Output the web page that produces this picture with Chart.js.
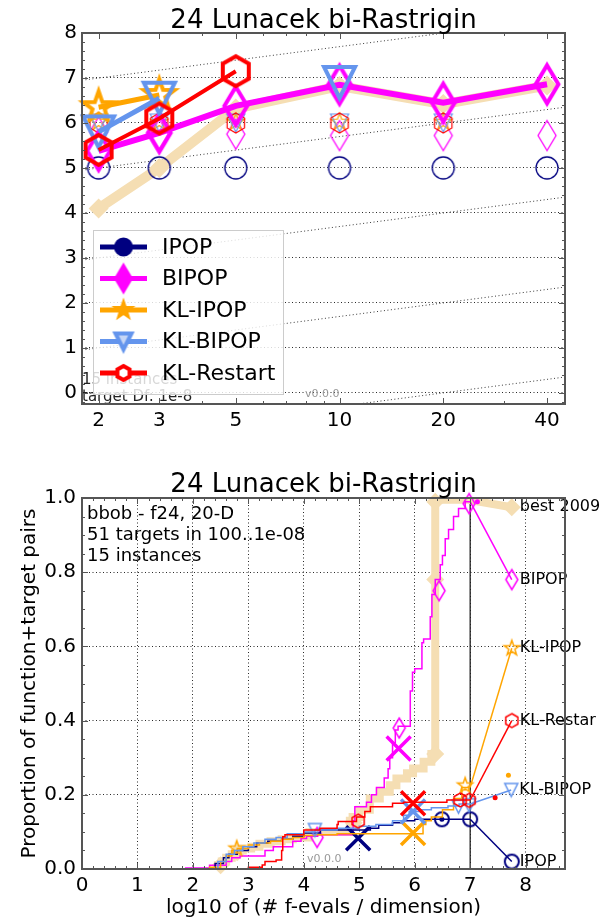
<!DOCTYPE html>
<html lang="en">
<head>
<meta charset="utf-8">
<title>24 Lunacek bi-Rastrigin</title>
<script src="https://cdn.jsdelivr.net/npm/chart.js@4.4.1/dist/chart.umd.min.js"></script>
<style>
  html, body { margin: 0; padding: 0; background: #fff; }
  #page { position: relative; width: 604px; height: 918px; }
  #page canvas { position: absolute; left: 0; }
</style>
</head>
<body>
<div id="page">
  <canvas id="dimChart" width="604" height="460" style="top:0px"></canvas>
  <canvas id="ecdfChart" width="604" height="458" style="top:460px"></canvas>
</div>
<script>
// ---------- top panel: log10(ERT / dimension) per dimension ----------
const dims = [2, 3, 5, 10, 20, 40];
const dimYTicks = [0, 1, 2, 3, 4, 5, 6, 7, 8];
const best2009Dim = [4.1, 5.0, 6.32, 6.82, 6.42, 6.83];
const bipopDim = [5.38, 5.78, 6.38, 6.85, 6.45, 6.86];
const klIpopDim = [6.35, 6.62, null, null, null, null];
const klBipopDim = [5.8, 6.55, null, 6.9, null, null];
const klRestartDim = [5.4, 6.1, 7.15, null, null, null];
// hollow markers: runs that never reached the target
const ipopMaxDim = [5, 5, 5, 5, 5, 5];
const bipopMaxDim = [5.8, 5.75, 5.75, 5.72, 5.72, 5.72];
const klIpopMaxDim = [6.02, 6.02, 6.02, 6.02, 6.02, null];
const klBipopMaxDim = [6.0, 6.0, 6.0, 6.0, 6.0, null];
const klRestartMaxDim = [6.0, 6.0, 6.0, 6.0, 6.0, null];
// dotted guide lines, left end and right end
const guideX = [1.79, 45.1];
const guideY = [[6.95, 8.35], [4.95, 6.35], [2.95, 4.35], [0.95, 2.35], [-1.05, 0.35]];

// ---------- bottom panel: ECDF of run lengths ----------
const ecdfXTicks = [0, 1, 2, 3, 4, 5, 6, 7, 8];
const ecdfYTicks = [0, 0.2, 0.4, 0.6, 0.8, 1.0];
const budgetLog = 7;

const best2009Ecdf = [[2.45,0],[2.52,0.01],[2.6,0.02],[2.7,0.03],[2.8,0.04],[2.9,0.05],[3.05,0.055],[3.2,0.06],[3.4,0.068],[3.6,0.075],[3.8,0.08],[4.1,0.085],[4.83,0.1],[4.88,0.13],[5.0,0.14],[5.19,0.16],[5.37,0.19],[5.55,0.208],[5.67,0.226],[5.86,0.244],[5.97,0.258],[6.16,0.271],[6.3,0.289],[6.37,0.31],[6.37,0.995],[6.97,0.995]];
const best2009Tail = [[6.97,0.995],[7.75,0.975]];
const best2009Marks = [[2.5,0.01],[2.8,0.045],[4.9,0.125],[6.37,0.31],[6.37,0.78],[6.37,0.99],[7.75,0.975]];

const bipopEcdf = [[1.87,0],[2.3,0.003],[2.6,0.01],[2.7,0.02],[2.85,0.03],[3.3,0.035],[3.45,0.05],[3.8,0.06],[3.95,0.075],[4.05,0.082],[4.25,0.088],[4.89,0.092],[4.92,0.13],[5.13,0.168],[5.22,0.18],[5.31,0.2],[5.45,0.22],[5.52,0.245],[5.55,0.27],[5.6,0.3],[5.65,0.34],[5.7,0.375],[5.92,0.385],[5.96,0.48],[6.0,0.53],[6.13,0.54],[6.16,0.61],[6.28,0.62],[6.31,0.68],[6.37,0.74],[6.46,0.78],[6.5,0.82],[6.55,0.845],[6.61,0.89],[6.7,0.915],[6.79,0.95],[6.91,0.972],[6.95,0.99],[7.0,0.99]];
const bipopTail = [[7.0,0.99],[7.75,0.78]];
const bipopMarks = [[4.24,0.085],[5.72,0.38],[6.44,0.75],[6.98,0.985],[7.75,0.78]];
const bipopMedian = [[5.71,0.325]];
const bipopDots = [[7.13,0.99]];

const ipopEcdf = [[2.4,0],[2.55,0.015],[2.65,0.03],[2.8,0.04],[3.0,0.05],[3.15,0.06],[3.35,0.07],[3.6,0.075],[3.8,0.08],[4.0,0.088],[4.3,0.097],[5.2,0.105],[5.35,0.11],[5.6,0.118],[5.8,0.125],[6.0,0.13],[6.3,0.134],[7.0,0.134]];
const ipopTail = [[7.0,0.134],[7.75,0.02]];
const ipopMarks = [[6.49,0.134],[7.0,0.134],[7.75,0.02]];
const ipopMedian = [[4.98,0.083]];
const ipopDots = [[6.49,0.134]];

const klIpopEcdf = [[2.3,0],[2.5,0.005],[2.6,0.02],[2.7,0.035],[2.8,0.05],[3.0,0.055],[3.2,0.065],[3.4,0.07],[3.6,0.075],[3.8,0.08],[4.0,0.085],[4.2,0.09],[4.6,0.092],[6.15,0.095],[6.2,0.12],[6.3,0.13],[6.5,0.14],[6.7,0.16],[6.85,0.19],[6.9,0.22],[7.0,0.22]];
const klIpopTail = [[7.0,0.22],[7.75,0.595]];
const klIpopMarks = [[2.79,0.055],[6.91,0.225],[7.75,0.595]];
const klIpopMedian = [[5.97,0.097]];
const klIpopDots = [[7.69,0.253]];

const klBipopEcdf = [[2.45,0],[2.6,0.02],[2.75,0.04],[2.9,0.05],[3.1,0.06],[3.3,0.07],[3.5,0.08],[3.7,0.085],[4.0,0.095],[4.2,0.1],[4.6,0.105],[5.0,0.11],[5.3,0.115],[5.6,0.12],[5.8,0.13],[5.9,0.145],[6.1,0.155],[6.3,0.16],[6.6,0.165],[6.8,0.17],[7.0,0.175]];
const klBipopTail = [[7.0,0.175],[7.74,0.213]];
const klBipopMarks = [[4.2,0.105],[6.79,0.168],[6.98,0.172],[7.74,0.213]];
const klBipopMedian = [[5.97,0.155]];

const klRestartEcdf = [[3.0,0],[3.25,0.005],[3.3,0.011],[3.5,0.02],[3.6,0.024],[3.62,0.05],[3.66,0.087],[4.0,0.092],[4.29,0.105],[4.6,0.11],[4.62,0.12],[4.95,0.128],[5.1,0.14],[5.2,0.155],[5.6,0.168],[5.8,0.177],[6.58,0.18],[6.8,0.186],[7.0,0.186]];
const klRestartTail = [[7.0,0.186],[7.75,0.40]];
const klRestartMarks = [[4.98,0.129],[6.82,0.186],[6.98,0.185],[7.75,0.40]];
const klRestartMedian = [[5.97,0.177]];
const klRestartDots = [[7.45,0.192]];

const legendNames = ["IPOP", "BIPOP", "KL-IPOP", "KL-BIPOP", "KL-Restart"];
const endLabels = ["best 2009", "BIPOP", "KL-IPOP", "KL-Restar", "KL-BIPOP", "IPOP"];
const endTails = [best2009Tail, bipopTail, klIpopTail, klRestartTail, klBipopTail, ipopTail];

const NAVY = "#000080", MAGENTA = "#ff00ff", ORANGE = "#ffa500", BLUE = "#6495ed", RED = "#ff0000", WHEAT = "#f5deb3";
const FONT = "'DejaVu Sans', 'Liberation Sans', sans-serif";

Chart.defaults.font.family = FONT;
Chart.defaults.color = "#000";

// draws a marker shape on a small canvas, used as pointStyle
function markerCanvas(shape, r, stroke, lw, fill) {
    const pad = Math.ceil(2 * lw) + 2;
    const size = Math.ceil(2 * r + 2 * pad);
    const c = document.createElement("canvas");
    c.width = size;
    c.height = size;
    const ctx = c.getContext("2d");
    ctx.translate(size / 2, size / 2);
    ctx.beginPath();
    if (shape === "circle") {
        ctx.arc(0, 0, r, 0, Math.PI * 2);
    } else {
        let p = [];
        if (shape === "hexagon") {
            for (let i = 0; i < 6; i++) {
                const a = -Math.PI / 2 + i * Math.PI / 3;
                p.push([r * Math.cos(a), r * Math.sin(a)]);
            }
        } else if (shape === "star") {
            for (let i = 0; i < 10; i++) {
                const a = -Math.PI / 2 + i * Math.PI / 5;
                const rr = i % 2 ? r * 0.4 : r;
                p.push([rr * Math.cos(a), rr * Math.sin(a)]);
            }
        } else if (shape === "diamond") {
            p = [[0, -r], [0.6 * r, 0], [0, r], [-0.6 * r, 0]];
        } else if (shape === "triDown") {
            p = [[-r, -r], [r, -r], [0, r]];
        }
        p.forEach((q, i) => i ? ctx.lineTo(q[0], q[1]) : ctx.moveTo(q[0], q[1]));
        ctx.closePath();
    }
    if (fill) {
        ctx.fillStyle = fill;
        ctx.fill();
    }
    if (lw > 0) {
        ctx.lineWidth = lw;
        ctx.strokeStyle = stroke;
        ctx.stroke();
    }
    return c;
}

function pts(pairs) {
    return pairs.map(p => ({ x: p[0], y: p[1] }));
}

function dimPts(vals) {
    return dims.map((d, i) => ({ x: d, y: vals[i] }));
}

// inward ticks on all four sides plus the frame
function drawFrame(chart, xMajor, xMinor, yMajor, yMinor) {
    const { ctx, chartArea: a, scales: { x, y } } = chart;
    ctx.save();
    ctx.strokeStyle = "#555";
    ctx.lineWidth = 1;
    ctx.beginPath();
    const xt = (vals, len) => vals.forEach(v => {
        const px = Math.round(x.getPixelForValue(v)) + 0.5;
        if (px < a.left || px > a.right) return;
        ctx.moveTo(px, a.bottom); ctx.lineTo(px, a.bottom - len);
        ctx.moveTo(px, a.top); ctx.lineTo(px, a.top + len);
    });
    const yt = (vals, len) => vals.forEach(v => {
        const py = Math.round(y.getPixelForValue(v)) + 0.5;
        if (py < a.top || py > a.bottom) return;
        ctx.moveTo(a.left, py); ctx.lineTo(a.left + len, py);
        ctx.moveTo(a.right, py); ctx.lineTo(a.right - len, py);
    });
    xt(xMajor, 6); xt(xMinor, 3);
    yt(yMajor, 6); yt(yMinor, 3);
    ctx.stroke();
    ctx.lineWidth = 2;
    ctx.strokeRect(a.left, a.top, a.right - a.left, a.bottom - a.top);
    ctx.restore();
}

function drawTitle(chart, baseline) {
    const { ctx, chartArea: a } = chart;
    ctx.save();
    ctx.font = "26px " + FONT;
    ctx.fillStyle = "#000";
    ctx.textAlign = "center";
    ctx.textBaseline = "alphabetic";
    ctx.fillText("24 Lunacek bi-Rastrigin", (a.left + a.right) / 2, baseline);
    ctx.restore();
}

// ---------- top chart ----------
const bigDiamond = markerCanvas("diamond", 19, MAGENTA, 4, null);
const bigStar = markerCanvas("star", 16, ORANGE, 4, null);
const bigTri = markerCanvas("triDown", 15.5, BLUE, 4, null);
const bigHex = markerCanvas("hexagon", 15, RED, 4, null);
const smallCircle = markerCanvas("circle", 11, NAVY, 1.3, null);
const smallDiamond = markerCanvas("diamond", 15, MAGENTA, 1.3, null);
const smallStar = markerCanvas("star", 9, ORANGE, 1.2, null);
const smallTri = markerCanvas("triDown", 9, BLUE, 1.2, null);
const smallHex = markerCanvas("hexagon", 10, RED, 1.2, null);

const legendColors = [NAVY, MAGENTA, ORANGE, BLUE, RED];
const legendMarks = [
    markerCanvas("circle", 8, NAVY, 3, NAVY),
    markerCanvas("diamond", 14, MAGENTA, 2, MAGENTA),
    markerCanvas("star", 8, ORANGE, 3, ORANGE),
    markerCanvas("triDown", 8, BLUE, 4, "#c6d6f6"),
    markerCanvas("hexagon", 7, RED, 4, "#fff")
];

const dimXMinor = [4, 6, 7, 8, 9, 30];
const dimYMinor = [];
for (let i = -1; i <= 40; i++) if (i % 5 !== 0) dimYMinor.push(i / 5);

function lineSet(vals, color, width, marker, order) {
    return {
        data: dimPts(vals), borderColor: color, borderWidth: width, fill: false,
        pointStyle: marker, pointRadius: 16, order: order, spanGaps: false, clip: false
    };
}

function markSet(vals, marker, order) {
    return { data: dimPts(vals), showLine: false, pointStyle: marker, pointRadius: 12, order: order, clip: false };
}

const dimDatasets = [];
guideY.forEach(g => {
    dimDatasets.push({
        data: [{ x: guideX[0], y: g[0] }, { x: guideX[1], y: g[1] }],
        borderColor: "#222", borderWidth: 0.9, borderDash: [1, 2.5], pointRadius: 0, order: 40
    });
});
dimDatasets.push({
    data: dimPts(best2009Dim), borderColor: WHEAT, borderWidth: 10, pointStyle: "rectRot",
    pointRadius: 10, pointBackgroundColor: WHEAT, pointBorderWidth: 0, order: 30
});
dimDatasets.push(markSet(ipopMaxDim, smallCircle, 20));
dimDatasets.push(markSet(bipopMaxDim, smallDiamond, 19));
dimDatasets.push(markSet(klIpopMaxDim, smallStar, 18));
dimDatasets.push(markSet(klBipopMaxDim, smallTri, 17));
dimDatasets.push(markSet(klRestartMaxDim, smallHex, 16));
dimDatasets.push(lineSet(bipopDim, MAGENTA, 6, bigDiamond, 5));
dimDatasets.push(lineSet(klIpopDim, ORANGE, 5, bigStar, 4));
dimDatasets.push(lineSet(klBipopDim, BLUE, 5, bigTri, 3));
dimDatasets.push(lineSet(klRestartDim, RED, 4, bigHex, 2));

const dimDecor = {
    id: "dimDecor",
    afterDatasetsDraw(chart) {
        const { ctx, chartArea: a } = chart;
        ctx.save();
        ctx.textAlign = "left";
        ctx.textBaseline = "middle";
        ctx.fillStyle = "#222";
        ctx.font = "15px " + FONT;
        ctx.fillText("15 instances", a.left, 380);
        ctx.fillText("target Df: 1e-8", a.left, 397);
        ctx.fillStyle = "#999";
        ctx.font = "11px " + FONT;
        ctx.fillText("v0.0.0", 305, 394);

        // legend box
        ctx.fillStyle = "rgba(255,255,255,0.82)";
        ctx.fillRect(93, 230, 190, 164);
        ctx.strokeStyle = "#ccc";
        ctx.lineWidth = 1;
        ctx.strokeRect(93.5, 230.5, 190, 164);
        legendNames.forEach((name, i) => {
            const cy = 247 + i * 31.5;
            ctx.strokeStyle = legendColors[i];
            ctx.lineWidth = 5;
            ctx.beginPath();
            ctx.moveTo(100, cy);
            ctx.lineTo(147, cy);
            ctx.stroke();
            const m = legendMarks[i];
            ctx.drawImage(m, 123.5 - m.width / 2, cy - m.height / 2);
            ctx.fillStyle = "#000";
            ctx.font = "22px " + FONT;
            ctx.fillText(name, 162, cy + 1);
        });
        ctx.restore();
        drawFrame(chart, dims, dimXMinor, dimYTicks, dimYMinor);
        drawTitle(chart, 28);
    }
};

new Chart(document.getElementById("dimChart"), {
    type: "line",
    data: { datasets: dimDatasets },
    options: {
        responsive: false,
        animation: false,
        events: [],
        layout: { padding: { left: 0, top: 33, right: 39, bottom: 26 } },
        plugins: { legend: { display: false }, tooltip: { enabled: false } },
        scales: {
            x: {
                type: "logarithmic",
                min: 1.79,
                max: 45.1,
                afterBuildTicks: s => { s.ticks = dims.map(v => ({ value: v })); },
                afterFit: s => { s.height = 30; },
                grid: { display: false, drawTicks: false },
                border: { display: false },
                ticks: { font: { size: 20 }, padding: 5, maxRotation: 0, autoSkip: false, callback: v => String(v) }
            },
            y: {
                type: "linear",
                min: -0.25,
                max: 8,
                afterBuildTicks: s => { s.ticks = dimYTicks.map(v => ({ value: v })); },
                afterFit: s => { s.width = 82; },
                grid: { color: "#111", lineWidth: 0.9, drawTicks: false },
                border: { display: false, dash: [1, 2.5] },
                ticks: { font: { size: 20 }, padding: 5, callback: v => String(v) }
            }
        }
    },
    plugins: [dimDecor]
});

// ---------- bottom chart ----------
const ecdfDiamond = markerCanvas("diamond", 10, MAGENTA, 1.5, null);
const ecdfStar = markerCanvas("star", 8, ORANGE, 1.5, null);
const ecdfTri = markerCanvas("triDown", 6.5, BLUE, 1.5, null);
const ecdfHex = markerCanvas("hexagon", 7, RED, 1.5, null);
const ecdfCircle = markerCanvas("circle", 7, NAVY, 2, null);

function stepSet(pairs, color, width, order) {
    return { data: pts(pairs), borderColor: color, borderWidth: width, stepped: "after", pointRadius: 0, fill: false, order: order };
}

function tailSet(pairs, color, width, order) {
    return { data: pts(pairs), borderColor: color, borderWidth: width, pointRadius: 0, fill: false, order: order };
}

function ecdfMarks(pairs, marker, order) {
    return { data: pts(pairs), showLine: false, pointStyle: marker, pointRadius: 10, order: order, clip: false };
}

function medianSet(pairs, color, order) {
    return {
        data: pts(pairs), showLine: false, pointStyle: "crossRot", pointRadius: 17,
        pointBorderWidth: 3.5, pointBorderColor: color, borderColor: color, order: order, clip: false
    };
}

function dotSet(pairs, color, order) {
    return {
        data: pts(pairs), showLine: false, pointStyle: "circle", pointRadius: 2.5,
        pointBackgroundColor: color, pointBorderWidth: 0, order: order
    };
}

const ecdfDatasets = [
    { data: [{ x: budgetLog, y: 0 }, { x: budgetLog, y: 1 }], borderColor: "#222", borderWidth: 1.3, pointRadius: 0, order: 60 },
    stepSet(best2009Ecdf, WHEAT, 8, 50),
    tailSet(best2009Tail, WHEAT, 8, 50),
    { data: pts(best2009Marks), showLine: false, pointStyle: "rectRot", pointRadius: 9, pointBackgroundColor: WHEAT, pointBorderWidth: 0, order: 49, clip: false },
    stepSet(bipopEcdf, MAGENTA, 1.5, 20),
    tailSet(bipopTail, MAGENTA, 1.5, 20),
    ecdfMarks(bipopMarks, ecdfDiamond, 19),
    medianSet(bipopMedian, MAGENTA, 18),
    dotSet(bipopDots, MAGENTA, 18),
    stepSet(ipopEcdf, NAVY, 1.5, 15),
    tailSet(ipopTail, NAVY, 1.5, 15),
    ecdfMarks(ipopMarks, ecdfCircle, 14),
    medianSet(ipopMedian, NAVY, 13),
    dotSet(ipopDots, NAVY, 13),
    stepSet(klIpopEcdf, ORANGE, 1.5, 12),
    tailSet(klIpopTail, ORANGE, 1.5, 12),
    ecdfMarks(klIpopMarks, ecdfStar, 11),
    medianSet(klIpopMedian, ORANGE, 10),
    dotSet(klIpopDots, ORANGE, 10),
    stepSet(klBipopEcdf, BLUE, 1.5, 9),
    tailSet(klBipopTail, BLUE, 1.5, 9),
    ecdfMarks(klBipopMarks, ecdfTri, 8),
    medianSet(klBipopMedian, BLUE, 7),
    stepSet(klRestartEcdf, RED, 1.5, 6),
    tailSet(klRestartTail, RED, 1.5, 6),
    ecdfMarks(klRestartMarks, ecdfHex, 5),
    medianSet(klRestartMedian, RED, 4),
    dotSet(klRestartDots, RED, 4)
];

const ecdfXMinor = [];
for (let i = 1; i <= 43; i++) if (i % 5 !== 0) ecdfXMinor.push(i / 5);
const ecdfYMinor = [];
for (let i = 1; i < 20; i++) if (i % 4 !== 0) ecdfYMinor.push(i / 20);

const ecdfDecor = {
    id: "ecdfDecor",
    afterDatasetsDraw(chart) {
        const { ctx, chartArea: a, scales: { x, y } } = chart;
        ctx.save();
        ctx.fillStyle = "#000";
        ctx.textAlign = "left";
        ctx.textBaseline = "alphabetic";
        ctx.font = "18px " + FONT;
        ctx.fillText("bbob - f24, 20-D", 87, 59);
        ctx.fillText("51 targets in 100..1e-08", 87, 80);
        ctx.fillText("15 instances", 87, 101);
        ctx.fillStyle = "#999";
        ctx.font = "11px " + FONT;
        ctx.textBaseline = "middle";
        ctx.fillText("v0.0.0", 307, 399);
        ctx.fillStyle = "#000";
        ctx.font = "16px " + FONT;
        endLabels.forEach((label, i) => {
            const end = endTails[i][endTails[i].length - 1];
            ctx.fillText(label, x.getPixelForValue(end[0]) + 8, y.getPixelForValue(end[1]));
        });
        ctx.restore();
        drawFrame(chart, ecdfXTicks, ecdfXMinor, ecdfYTicks, ecdfYMinor);
        drawTitle(chart, 32);
    }
};

new Chart(document.getElementById("ecdfChart"), {
    type: "line",
    data: { datasets: ecdfDatasets },
    options: {
        responsive: false,
        animation: false,
        events: [],
        layout: { padding: { left: 0, top: 38, right: 39, bottom: 0 } },
        plugins: { legend: { display: false }, tooltip: { enabled: false } },
        scales: {
            x: {
                type: "linear",
                min: 0,
                max: 8.71,
                afterBuildTicks: s => { s.ticks = ecdfXTicks.map(v => ({ value: v })); },
                afterFit: s => { s.height = 49; },
                grid: { color: "#111", lineWidth: 0.9, drawTicks: false },
                border: { display: false, dash: [1, 2.5] },
                ticks: { font: { size: 20 }, padding: 5, maxRotation: 0, autoSkip: false, callback: v => String(v) },
                title: {
                    display: true, text: "log10 of (# f-evals / dimension)",
                    font: { size: 20, lineHeight: 1.0 }, padding: { top: 0, bottom: 0 }
                }
            },
            y: {
                type: "linear",
                min: 0,
                max: 1,
                afterBuildTicks: s => { s.ticks = ecdfYTicks.map(v => ({ value: v })); },
                afterFit: s => { s.width = 82; },
                grid: { color: "#111", lineWidth: 0.9, drawTicks: false },
                border: { display: false, dash: [1, 2.5] },
                ticks: { font: { size: 20 }, padding: 6, callback: v => v.toFixed(1) },
                title: {
                    display: true, text: "Proportion of function+target pairs",
                    font: { size: 20, lineHeight: 1.0 }, padding: { top: 20, bottom: 0 }
                }
            }
        }
    },
    plugins: [ecdfDecor]
});
</script>
</body>
</html>
